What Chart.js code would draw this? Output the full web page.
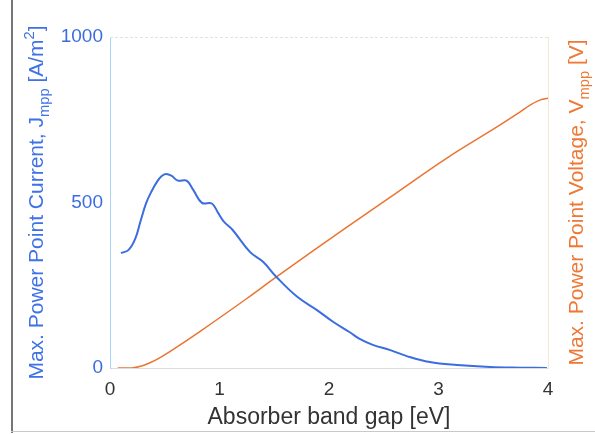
<!DOCTYPE html>
<html>
<head>
<meta charset="utf-8">
<script src="https://cdn.jsdelivr.net/npm/chart.js@4/dist/chart.umd.min.js"></script>
<style>
  html, body { margin: 0; padding: 0; background: #fff; }
  #wrap { position: relative; width: 595px; height: 434px; }
  #frameLeft { position: absolute; left: 11px; top: 0; height: 433px; border-left: 2px solid #767676; }
  #frameBottom { position: absolute; left: 11px; right: 0; top: 431px; border-top: 1px solid #c9c9c9; }
</style>
</head>
<body>
<div id="wrap">
  <canvas id="mppChart" width="595" height="434"></canvas>
  <div id="frameLeft"></div>
  <div id="frameBottom"></div>
</div>
<script>
// Jmpp (left axis) vs absorber band gap
const bandGapJ = [0.10, 0.17, 0.23, 0.28, 0.33, 0.38, 0.43, 0.47, 0.51, 0.56, 0.62, 0.70, 0.76, 0.84, 0.93, 0.99, 1.04,
    1.12, 1.28, 1.40, 1.52, 1.71, 1.89, 2.04, 2.19, 2.28, 2.40, 2.56, 2.71, 2.92, 3.17, 3.47, 3.75, 3.99];
const currentJ = [347, 357, 390, 445, 498, 534, 563, 579, 586, 581, 566, 566, 538, 499, 497, 467, 442,
    417, 350, 320, 275, 215, 175, 139, 108, 88, 70, 54, 36, 18, 9, 3, 1, 0];

// Vmpp (right axis) vs absorber band gap
const bandGapV = [0.07, 0.20, 0.28, 0.36, 0.45, 0.55, 0.82, 1.25, 1.52, 2.15, 2.62, 3.08, 3.53, 3.74, 3.84, 3.93, 4.00];
const voltageV = [0.00, 0.00, 0.02, 0.06, 0.12, 0.20, 0.44, 0.84, 1.10, 1.69, 2.12, 2.54, 2.91, 3.09, 3.18, 3.24, 3.26];

const xTicks = [0, 1, 2, 3, 4];
const yTicks = [0, 500, 1000];

const BLUE = '#3b6de0';
const ORANGE = '#ea7430';
const FONT = '"Liberation Sans", Arial, sans-serif';

// draw text with sub/superscripts, rotated if needed
function drawRich(ctx, parts, cx, cy, size, color, rotate) {
    ctx.save();
    ctx.translate(cx, cy);
    if (rotate) ctx.rotate(-Math.PI / 2);
    ctx.fillStyle = color;
    ctx.textBaseline = 'alphabetic';
    ctx.textAlign = 'left';
    let total = 0;
    parts.forEach(p => {
        const s = p.sub || p.sup ? size * 0.7 : size;
        ctx.font = s + 'px ' + FONT;
        p.w = ctx.measureText(p.text).width;
        p.s = s;
        total += p.w;
    });
    let x = -total / 2;
    parts.forEach(p => {
        ctx.font = p.s + 'px ' + FONT;
        let dy = 0;
        if (p.sub) dy = size * 0.28;
        if (p.sup) dy = -size * 0.42;
        ctx.fillText(p.text, x, dy);
        x += p.w;
    });
    ctx.restore();
}

const titlesPlugin = {
    id: 'titles',
    beforeDatasetsDraw(chart) {
        const { ctx, chartArea } = chart;
        ctx.save();
        ctx.strokeStyle = '#e2e2e2';
        ctx.lineWidth = 1;
        ctx.setLineDash([3, 2]);
        ctx.beginPath();
        ctx.moveTo(chartArea.left, chartArea.top + 0.5);
        ctx.lineTo(chartArea.right, chartArea.top + 0.5);
        ctx.stroke();
        ctx.restore();
    },
    afterDraw(chart) {
        const { ctx, chartArea } = chart;
        const midY = (chartArea.top + chartArea.bottom) / 2;
        drawRich(ctx, [
            { text: 'Max. Power Point Current, J' },
            { text: 'mpp', sub: true },
            { text: ' [A/m' },
            { text: '2', sup: true },
            { text: ']' }
        ], 43, midY, 21, '#3f72e6', true);
        drawRich(ctx, [
            { text: 'Max. Power Point Voltage, V' },
            { text: 'mpp', sub: true },
            { text: ' [V]' }
        ], 583, midY, 21, '#ee7834', true);
        drawRich(ctx, [
            { text: 'Absorber band gap [eV]' }
        ], (chartArea.left + chartArea.right) / 2, 424, 23, '#333333', false);
    }
};

const ctx = document.getElementById('mppChart').getContext('2d');
new Chart(ctx, {
    type: 'line',
    data: {
        datasets: [
            {
                label: 'Jmpp',
                data: bandGapJ.map((x, i) => ({ x: x, y: currentJ[i] })),
                borderColor: BLUE,
                borderWidth: 2,
                pointRadius: 0,
                tension: 0.4,
                yAxisID: 'y'
            },
            {
                label: 'Vmpp',
                data: bandGapV.map((x, i) => ({ x: x, y: voltageV[i] })),
                borderColor: ORANGE,
                borderWidth: 1.5,
                pointRadius: 0,
                tension: 0.4,
                yAxisID: 'y1'
            }
        ]
    },
    options: {
        responsive: false,
        animation: false,
        layout: { padding: { top: 37 } },
        plugins: { legend: { display: false }, tooltip: { enabled: false } },
        scales: {
            x: {
                type: 'linear',
                min: 0,
                max: 4,
                afterBuildTicks: s => { s.ticks = xTicks.map(v => ({ value: v })); },
                ticks: { color: '#333', font: { family: FONT, size: 19 }, padding: 10, callback: v => String(v) },
                grid: { display: false, drawTicks: false },
                border: { color: '#dcdcdc' },
                afterFit: s => { s.height = 66; }
            },
            y: {
                position: 'left',
                min: 0,
                max: 1000,
                afterBuildTicks: s => { s.ticks = yTicks.map(v => ({ value: v })); },
                ticks: { color: BLUE, font: { family: FONT, size: 19 }, padding: 7, callback: v => String(v) },
                grid: { display: false, drawTicks: false },
                border: { color: '#a6d6f4' },
                afterFit: s => { s.width = 110; }
            },
            y1: {
                position: 'right',
                min: 0,
                max: 4,
                ticks: { display: false },
                grid: { display: false, drawTicks: false },
                border: { color: '#f2ead6' },
                afterFit: s => { s.width = 47; }
            }
        }
    },
    plugins: [titlesPlugin]
});
</script>
</body>
</html>
